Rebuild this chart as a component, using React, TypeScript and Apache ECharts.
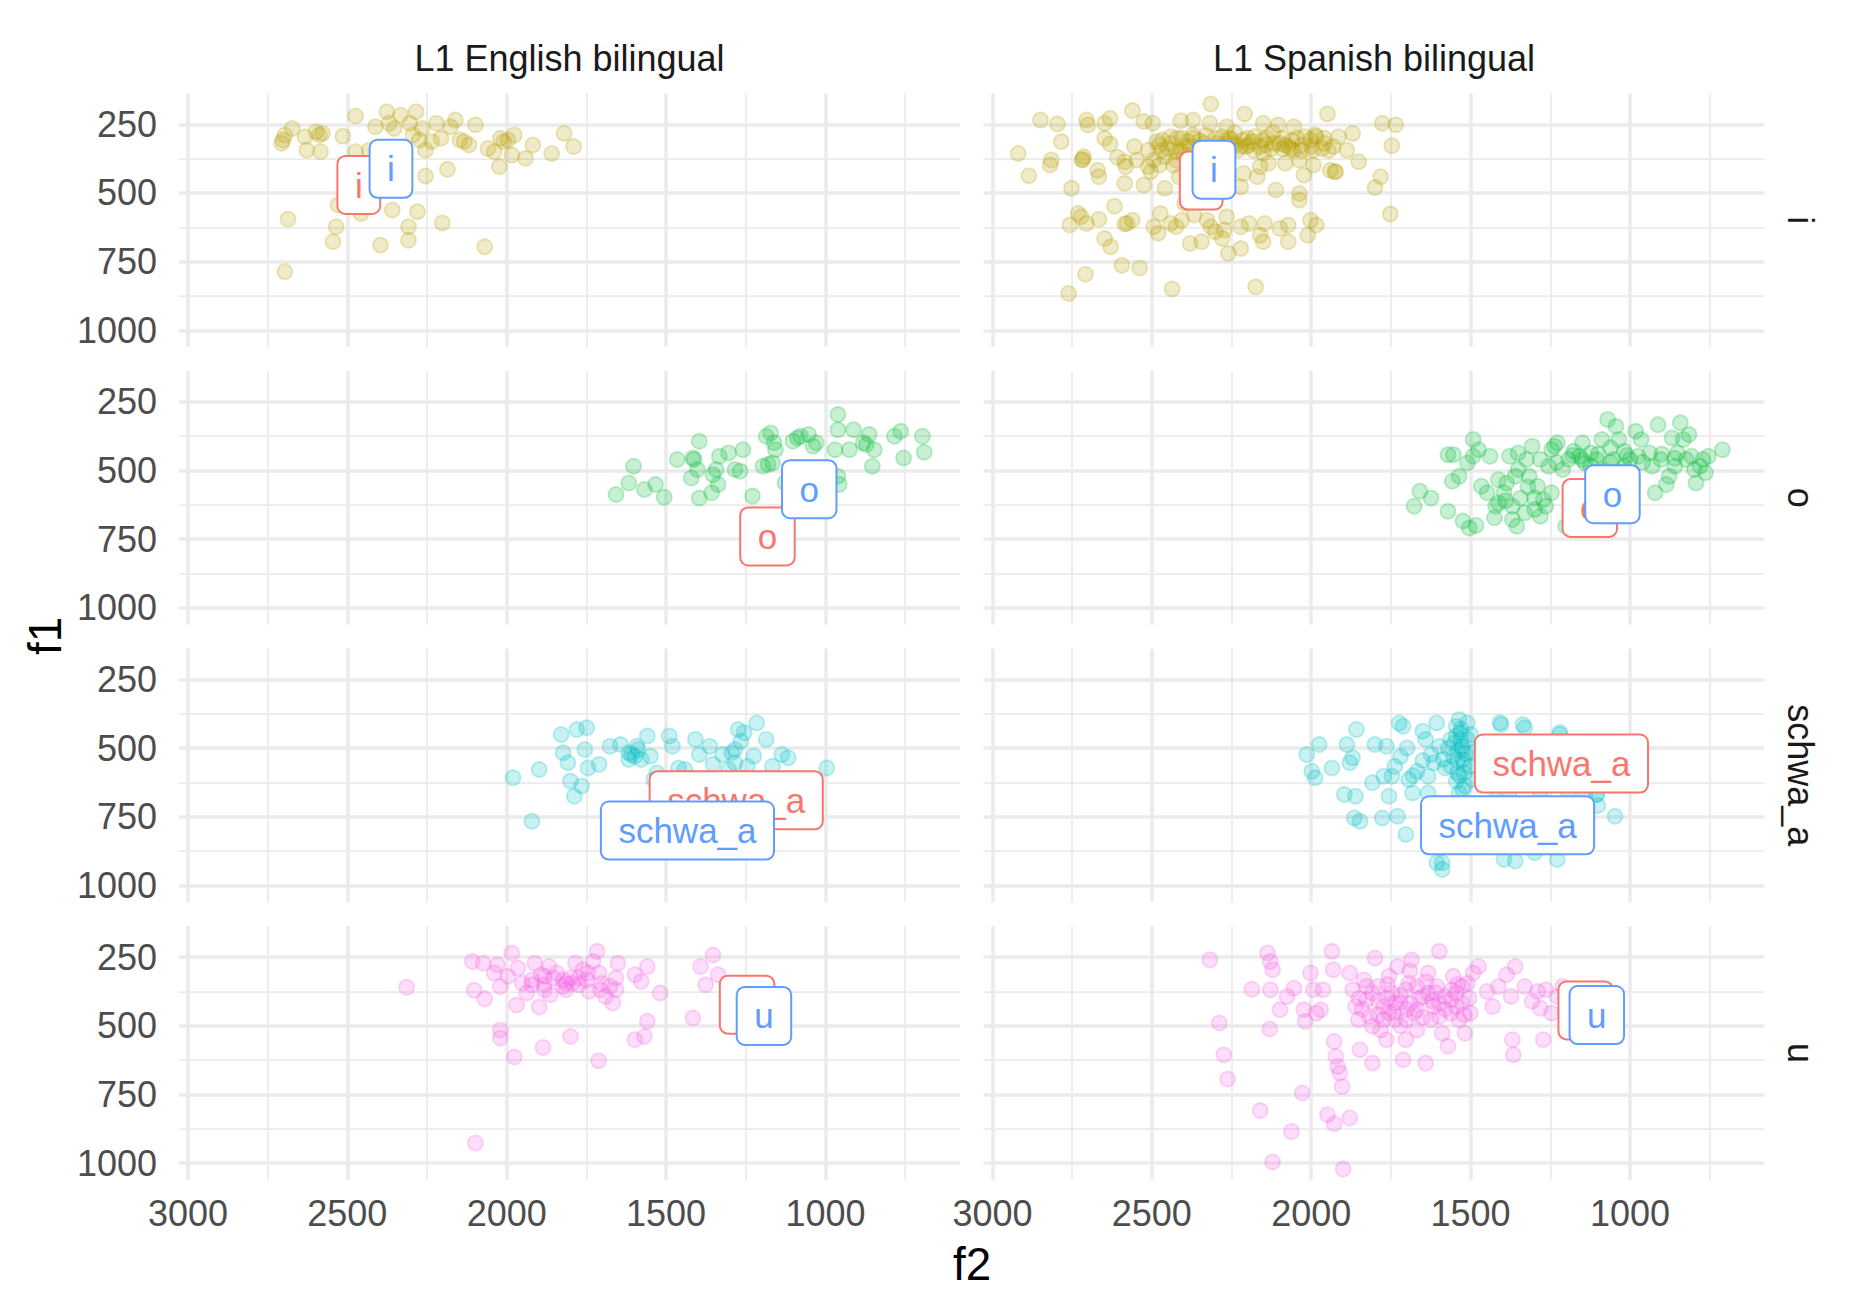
import React, { useEffect, useRef } from "react";
import * as echarts from "echarts";

// ---------- data ----------
const COLUMN_NAMES = ["L1 English bilingual", "L1 Spanish bilingual"];
const VOWELS = ["i", "o", "schwa_a", "u"];
const VOWEL_COLORS = ["#B79F00", "#00BA38", "#00BFC4", "#F564E3"];
const LABEL_RED = "#F8766D";
const LABEL_BLUE = "#619CFF";

const F2_RANGE = [578, 3028];
const F1_RANGE = [137, 1061];
const X_MAJOR = [1000, 1500, 2000, 2500, 3000];
const X_MINOR = [750, 1250, 1750, 2250, 2750];
const Y_MAJOR = [250, 500, 750, 1000];
const Y_MINOR = [375, 625, 875];

// [f2, f1]
const ENG_I = [
  [2696, 289], [2702, 307], [2706, 319], [2673, 265], [2633, 295], [2627, 344], [2598, 277], [2588, 289],
  [2584, 350], [2578, 283], [2514, 293], [2474, 220], [2474, 350], [2431, 344], [2412, 259], [2376, 204],
  [2369, 246], [2333, 216], [2353, 265], [2304, 246], [2284, 204], [2294, 289], [2274, 307], [2265, 265],
  [2255, 344], [2235, 313], [2220, 246], [2206, 301], [2176, 259], [2161, 234], [2147, 307], [2133, 313],
  [2118, 325], [2098, 252], [2059, 338], [2039, 350], [2020, 301], [2010, 313], [1996, 307], [1984, 362],
  [1976, 289], [1941, 374], [1918, 325], [1859, 356], [1820, 283], [1790, 331], [2023, 404], [2186, 414],
  [2255, 438], [2529, 544], [2457, 575], [2359, 562], [2280, 568], [2202, 609], [2308, 623], [2686, 596],
  [2535, 623], [2545, 678], [2396, 690], [2308, 672], [2069, 696], [2696, 787]
];

const SPA_I = [
  [2849, 234], [2796, 249], [2705, 234], [2701, 252], [2631, 228], [2648, 246], [2561, 200], [2525, 240],
  [2497, 246], [2409, 237], [2371, 234], [2315, 176], [2318, 246], [2265, 259], [2209, 212], [2151, 246],
  [2104, 252], [2054, 259], [1949, 212], [1777, 246], [1735, 252], [1747, 328], [1782, 441], [1800, 480],
  [1752, 577], [2919, 356], [2886, 437], [2819, 398], [2815, 380], [2784, 313], [2752, 483], [2719, 380],
  [2714, 368], [2670, 417], [2666, 441], [2648, 301], [2631, 322], [2608, 370], [2585, 386], [2582, 404],
  [2585, 465], [2555, 331], [2547, 380], [2525, 471], [2511, 344], [2503, 423], [2485, 313], [2467, 307],
  [2459, 483], [2441, 295], [2432, 398], [2415, 441], [2406, 301], [2397, 331], [2371, 289], [2357, 380],
  [2344, 350], [2301, 301], [2283, 331], [2265, 368], [2248, 319], [2230, 344], [2221, 477], [2213, 307],
  [2195, 325], [2177, 295], [2169, 441], [2151, 307], [2134, 392], [2125, 338], [2111, 489], [2090, 301],
  [2072, 331], [2063, 338], [2037, 380], [2023, 435], [2037, 502], [2019, 295], [1993, 398], [1984, 295],
  [1967, 338], [1940, 417], [1923, 423], [1914, 295], [1888, 344], [1870, 283], [1851, 386],
  [2476, 325], [2450, 338], [2424, 350], [2388, 313], [2336, 319], [2318, 338], [2292, 319], [2257, 301],
  [2239, 325], [2204, 331], [2186, 313], [2160, 331], [2142, 325], [2116, 319], [2081, 325], [2054, 344],
  [2028, 325], [2002, 307], [1988, 289], [1958, 319], [1931, 331], [2081, 392], [2160, 404], [2213, 429],
  [2265, 404], [2301, 392], [2476, 398], [2511, 404], [2494, 380], [2459, 368], [2424, 380], [2388, 404],
  [2717, 378], [1926, 423], [2440, 320], [2410, 345], [2380, 330], [2350, 310], [2290, 340], [2250, 305],
  [2220, 330], [2180, 345], [2140, 300], [2100, 320], [2060, 310], [2030, 345], [2000, 330], [1960, 300],
  [2420, 300], [2120, 280], [2240, 280], [2330, 290], [2470, 345], [2400, 360], [2310, 360], [2270, 320],
  [2200, 300], [2150, 355], [2090, 340], [2045, 300], [1995, 345], [1945, 345], [2370, 300], [2280, 295],
  [2757, 617], [2731, 575], [2722, 587], [2705, 611], [2666, 596], [2648, 666], [2629, 696], [2617, 548],
  [2585, 613], [2578, 611], [2561, 599], [2494, 623], [2480, 647], [2473, 575], [2441, 611], [2424, 623],
  [2406, 599], [2397, 538], [2380, 684], [2367, 580], [2344, 678], [2327, 599], [2315, 623], [2301, 641],
  [2279, 666], [2272, 635], [2265, 587], [2260, 720], [2221, 702], [2221, 623], [2195, 611], [2160, 654],
  [2151, 678], [2146, 611], [2098, 629], [2072, 678], [2072, 617], [2037, 526], [2011, 654], [2002, 599],
  [1984, 617], [2594, 763], [2538, 773], [2708, 796], [2761, 866], [2436, 850], [2174, 842]
];

const ENG_O = [
  [1657, 587], [1617, 545], [1602, 484], [1568, 569], [1533, 551], [1506, 597], [1465, 460], [1416, 454],
  [1412, 460], [1421, 527], [1396, 393], [1396, 600], [1357, 581], [1353, 515], [1343, 496], [1333, 448],
  [1337, 551], [1304, 436], [1284, 496], [1259, 424], [1268, 502], [1229, 593], [1196, 484], [1186, 375],
  [1172, 363], [1166, 472], [1161, 399], [1157, 424], [1127, 545], [1102, 393], [1088, 381], [1078, 375],
  [1053, 369], [1029, 399], [1039, 411], [961, 296], [970, 424], [961, 351], [961, 521], [957, 551],
  [925, 424], [912, 351], [882, 399], [872, 405], [863, 369], [847, 424], [853, 484], [784, 375],
  [764, 357], [755, 454], [696, 375], [690, 433], [1180, 478], [1402, 496]
];

const SPA_O = [
  [1677, 630], [1659, 575], [1624, 600], [1571, 648], [1571, 442], [1554, 442], [1557, 539], [1536, 521],
  [1524, 684], [1510, 472], [1504, 709], [1492, 387], [1492, 448], [1483, 700], [1475, 424], [1466, 557],
  [1448, 581], [1439, 448], [1425, 672], [1422, 630], [1413, 618], [1395, 581], [1387, 545], [1378, 448],
  [1369, 678], [1360, 521], [1355, 703], [1351, 436], [1343, 600], [1330, 654], [1325, 460], [1316, 521],
  [1307, 411], [1299, 642], [1290, 557], [1281, 460], [1272, 606], [1264, 630], [1255, 484], [1246, 424],
  [1237, 411], [1228, 399], [1211, 496], [1202, 703], [1176, 430], [1158, 448], [1149, 399], [1141, 472],
  [1123, 436], [1105, 460], [1088, 387], [1070, 314], [1061, 417], [1053, 460], [1044, 339], [1035, 387],
  [1018, 430], [1000, 460], [982, 357], [974, 448], [965, 387], [938, 436], [921, 581], [912, 333],
  [903, 460], [886, 551], [877, 521], [868, 381], [851, 436], [842, 326], [833, 387], [824, 460],
  [815, 369], [807, 448], [793, 545], [780, 484], [771, 460], [763, 508], [754, 448], [710, 424],
  [1193, 460], [1123, 484], [1018, 484], [930, 484], [859, 484], [798, 496], [1088, 496], [1351, 496],
  [1413, 533], [1246, 581], [1281, 666], [1369, 630], [1150, 460], [1100, 440], [1060, 470], [1010, 445],
  [960, 470], [900, 440], [860, 455], [1320, 560], [1300, 600], [1390, 610], [1230, 470], [1180, 445]
];

const ENG_SCHWA = [
  [1980, 608], [1898, 578], [1921, 766], [1829, 450], [1823, 517], [1808, 553], [1800, 620], [1788, 675],
  [1780, 432], [1765, 638], [1755, 505], [1749, 426], [1745, 572], [1710, 559], [1676, 493], [1643, 487],
  [1617, 541], [1608, 523], [1598, 529], [1592, 493], [1578, 541], [1559, 456], [1549, 529], [1539, 614],
  [1529, 590], [1490, 456], [1480, 493], [1461, 572], [1441, 578], [1408, 468], [1396, 523], [1363, 493],
  [1353, 559], [1323, 523], [1294, 517], [1284, 553], [1274, 432], [1255, 444], [1245, 566], [1225, 529],
  [1216, 408], [1186, 468], [1166, 566], [1137, 523], [1117, 535], [996, 572], [1284, 505], [1304, 578],
  [1588, 505], [1617, 517], [1265, 475]
];

const SPA_SCHWA = [
  [2014, 523], [1998, 584], [1988, 608], [1975, 487], [1935, 572], [1896, 669], [1888, 487], [1879, 553],
  [1870, 535], [1861, 675], [1858, 432], [1847, 766], [1865, 754], [1808, 626], [1800, 487], [1777, 754],
  [1773, 602], [1764, 493], [1756, 675], [1747, 602], [1738, 566], [1729, 748], [1724, 408], [1712, 420],
  [1703, 814], [1699, 499], [1694, 614], [1682, 663], [1668, 584], [1650, 438], [1641, 468], [1633, 602],
  [1624, 523], [1606, 408], [1598, 493], [1589, 917], [1580, 572], [1562, 468], [1554, 529], [1545, 420],
  [1541, 590], [1536, 396], [1531, 444], [1527, 493], [1524, 541], [1518, 638], [1510, 468], [1501, 566],
  [1496, 614], [1492, 517], [1404, 414], [1395, 905], [1360, 911], [1330, 426], [1228, 905], [1220, 450],
  [1047, 748], [1299, 881], [1281, 663], [1193, 663], [1141, 675], [1105, 669], [1378, 675], [1422, 687],
  [1589, 942], [1606, 917], [1536, 663], [1633, 663], [1510, 408], [1562, 566], [1615, 553],
  [1530, 470], [1540, 510], [1520, 560], [1535, 600], [1545, 620], [1525, 650], [1550, 480], [1515, 520],
  [1500, 450], [1408, 407], [1336, 414], [1220, 443], [1104, 669], [1101, 709], [1530, 430], [1540, 545],
  [1520, 590], [1545, 455], [1525, 505], [1570, 500], [1585, 540], [1650, 545], [1720, 530], [1680, 600]
];

const ENG_U = [
  [2314, 360], [2108, 266], [2102, 371], [2069, 402], [2074, 272], [2029, 278], [2020, 357], [2039, 308],
  [1984, 235], [1996, 320], [1969, 424], [1965, 290], [1951, 345], [1937, 381], [1921, 351], [1912, 272],
  [1898, 432], [1892, 314], [1882, 351], [1867, 284], [1863, 387], [1853, 326], [1843, 308], [1823, 357],
  [1814, 369], [1800, 326], [1784, 272], [1774, 351], [1761, 296], [1749, 333], [1741, 375], [1729, 266],
  [1716, 229], [1710, 308], [1702, 345], [1690, 393], [1676, 357], [1667, 417], [1657, 369], [1651, 272],
  [1657, 326], [1598, 314], [1578, 339], [1559, 284], [1519, 381], [1392, 284], [1376, 351], [1353, 242],
  [1337, 314], [1416, 472], [1559, 484], [1568, 539], [1598, 551], [1800, 539], [1886, 579], [1976, 614],
  [1712, 627], [2020, 515], [2020, 545], [2098, 927], [1882, 320], [1823, 333], [1794, 345], [1745, 308],
  [1706, 369], [1882, 369], [1921, 333], [1774, 326], [1814, 345]
];

const SPA_U = [
  [2318, 260], [2288, 490], [2274, 606], [2262, 694], [2186, 367], [2160, 809], [2137, 235], [2128, 266],
  [2121, 296], [2128, 369], [2130, 512], [2098, 442], [2076, 393], [2062, 885], [2054, 363], [2028, 745],
  [2023, 442], [2019, 484], [2002, 308], [1993, 369], [1984, 454], [1970, 442], [1963, 369], [1949, 824],
  [1935, 229], [1931, 296], [1928, 557], [1923, 612], [1917, 648], [1910, 672], [1903, 721], [1928, 857],
  [1900, 1022], [1879, 836], [1879, 308], [1870, 369], [1861, 430], [1852, 478], [1847, 587], [1835, 333],
  [1826, 405], [1817, 466], [1808, 636], [1800, 254], [1791, 357], [1782, 515], [1773, 430], [1764, 551],
  [1756, 320], [1747, 381], [1738, 478], [1729, 284], [1721, 417], [1712, 624], [1703, 551], [1694, 345],
  [1685, 260], [1677, 454], [1668, 515], [1650, 393], [1641, 636], [1633, 308], [1624, 478], [1615, 430],
  [1606, 357], [1598, 229], [1589, 527], [1580, 393], [1571, 575], [1562, 454], [1554, 320], [1545, 381],
  [1536, 478], [1527, 417], [1518, 527], [1510, 345], [1501, 454], [1492, 308], [1475, 284], [1448, 375],
  [1431, 430], [1413, 357], [1387, 314], [1373, 393], [1369, 551], [1366, 606], [1360, 284], [1330, 357],
  [1307, 411], [1290, 375], [1281, 436], [1272, 551], [1264, 369], [1246, 454], [1211, 357], [1185, 405],
  [1228, 393], [1808, 381], [1773, 478], [1738, 417], [1703, 369], [1668, 442], [1633, 381], [1598, 466],
  [1562, 405], [1527, 357], [1808, 502], [1703, 478], [1598, 417], [1756, 454], [1826, 357], [1545, 430],
  [1668, 357], [2121, 996], [1790, 410], [1760, 350], [1740, 450], [1720, 390], [1690, 420], [1660, 400],
  [1640, 340], [1620, 410], [1580, 440], [1560, 370], [1540, 350], [1520, 460], [1790, 460], [1840, 440],
  [1720, 500], [1650, 470], [1610, 380], [1690, 300], [1760, 400], [1505, 400], [1850, 400], [1700, 440]
];

// points by [vowel row][column]
const POINTS = [
  [ENG_I, SPA_I],
  [ENG_O, SPA_O],
  [ENG_SCHWA, SPA_SCHWA],
  [ENG_U, SPA_U]
];

// label positions [f2, f1] by [vowel row][column]
const RED_LABELS = [
  [[2464, 471], [2345, 455]],
  [[1182, 740], [1126, 636]],
  [[1280, 690], [1215, 556]],
  [[1246, 423], [1139, 444]]
];
const BLUE_LABELS = [
  [[2363, 412], [2305, 415]],
  [[1051, 568], [1055, 586]],
  [[1433, 800], [1384, 781]],
  [[1193, 464], [1104, 461]]
];

// ---------- layout / style ----------
const FONT = "'Liberation Sans', Arial, Helvetica, sans-serif";
const COL_LEFT = [179, 983.5];
const COL_W = 781;
const ROW_TOP = [93.3, 370.9, 648.5, 926.1];
const ROW_H = 253.7;
const GRID_COLOR = "#EBEBEB";

function rgba(hex: string, a: number) {
  const n = parseInt(hex.slice(1), 16);
  return `rgba(${(n >> 16) & 255},${(n >> 8) & 255},${n & 255},${a})`;
}

const plain = (v: number) => String(v);

function buildOption() {
  const grid: any[] = [];
  const xMain: any[] = [];
  const xMinor: any[] = [];
  const yMain: any[] = [];
  const yMinor: any[] = [];
  const series: any[] = [];

  for (let r = 0; r < 4; r++) {
    for (let c = 0; c < 2; c++) {
      const p = r * 2 + c;
      grid.push({
        left: COL_LEFT[c],
        top: ROW_TOP[r],
        width: COL_W,
        height: ROW_H,
        containLabel: false,
        outerBoundsMode: "none",
      });
      const xBase = {
        type: "value",
        gridIndex: p,
        min: F2_RANGE[0],
        max: F2_RANGE[1],
        inverse: true,
        axisLine: { show: false },
      };
      xMain.push({
        ...xBase,
        axisTick: { show: false, customValues: X_MAJOR },
        axisLabel: {
          show: r === 3,
          customValues: X_MAJOR,
          formatter: plain,
          fontSize: 36,
          color: "#4D4D4D",
          fontFamily: FONT,
          margin: 16,
        },
        splitLine: { show: true, lineStyle: { color: GRID_COLOR, width: 3.5 } },
      });
      xMinor.push({
        ...xBase,
        axisTick: { show: false, customValues: X_MINOR },
        axisLabel: { show: false, customValues: X_MINOR },
        splitLine: { show: true, lineStyle: { color: GRID_COLOR, width: 1.75 } },
      });
      const yBase = {
        type: "value",
        gridIndex: p,
        min: F1_RANGE[0],
        max: F1_RANGE[1],
        inverse: true,
        axisLine: { show: false },
      };
      yMain.push({
        ...yBase,
        axisTick: { show: false, customValues: Y_MAJOR },
        axisLabel: {
          show: c === 0,
          customValues: Y_MAJOR,
          formatter: plain,
          fontSize: 36,
          color: "#4D4D4D",
          fontFamily: FONT,
          margin: 22,
        },
        splitLine: { show: true, lineStyle: { color: GRID_COLOR, width: 3.5 } },
      });
      yMinor.push({
        ...yBase,
        axisTick: { show: false, customValues: Y_MINOR },
        axisLabel: { show: false, customValues: Y_MINOR },
        splitLine: { show: true, lineStyle: { color: GRID_COLOR, width: 1.75 } },
      });

      const col = VOWEL_COLORS[r];
      series.push({
        type: "scatter",
        name: `${VOWELS[r]}-${c}`,
        xAxisIndex: p,
        yAxisIndex: p,
        data: POINTS[r][c],
        symbol: "circle",
        symbolSize: 15,
        silent: true,
        z: 2,
        itemStyle: {
          color: rgba(col, 0.22),
          borderColor: rgba(col, 0.25),
          borderWidth: 1.8,
          opacity: 1,
        },
      });

      const mkLabel = (pos: number[], color: string, z: number) => ({
        type: "scatter",
        xAxisIndex: p,
        yAxisIndex: p,
        data: [pos],
        symbolSize: 1,
        silent: true,
        z,
        itemStyle: { color: "rgba(0,0,0,0)", opacity: 1 },
        label: {
          show: true,
          position: "inside",
          formatter: VOWELS[r],
          fontSize: 35,
          lineHeight: 35,
          fontFamily: FONT,
          color,
          backgroundColor: "#ffffff",
          borderColor: color,
          borderWidth: 2,
          borderRadius: 7,
          padding: [10.5, 16.5],
        },
      });
      series.push(mkLabel(RED_LABELS[r][c], LABEL_RED, 5));
      series.push(mkLabel(BLUE_LABELS[r][c], LABEL_BLUE, 6));
    }
  }

  const graphic: any[] = [];
  for (let c = 0; c < 2; c++) {
    graphic.push({
      type: "text",
      x: COL_LEFT[c] + COL_W / 2,
      y: 58,
      style: {
        text: COLUMN_NAMES[c],
        fontSize: 36,
        fontFamily: FONT,
        fill: "#1A1A1A",
        align: "center",
        verticalAlign: "middle",
      },
    });
  }
  for (let r = 0; r < 4; r++) {
    graphic.push({
      type: "text",
      x: 1800,
      y: ROW_TOP[r] + ROW_H / 2,
      rotation: -Math.PI / 2,
      style: {
        text: VOWELS[r],
        fontSize: 36,
        fontFamily: FONT,
        fill: "#1A1A1A",
        align: "center",
        verticalAlign: "middle",
      },
    });
  }
  graphic.push({
    type: "text",
    x: 45,
    y: 636,
    rotation: Math.PI / 2,
    style: {
      text: "f1",
      fontSize: 45.8,
      fontFamily: FONT,
      fill: "#000000",
      align: "center",
      verticalAlign: "middle",
    },
  });
  graphic.push({
    type: "text",
    x: 972,
    y: 1264,
    style: {
      text: "f2",
      fontSize: 45.8,
      fontFamily: FONT,
      fill: "#000000",
      align: "center",
      verticalAlign: "middle",
    },
  });

  return {
    animation: false,
    backgroundColor: "#ffffff",
    textStyle: { fontFamily: FONT },
    grid,
    xAxis: [...xMain, ...xMinor],
    yAxis: [...yMain, ...yMinor],
    series,
    graphic,
  };
}

function Chart() {
  const ref = useRef<HTMLDivElement>(null);
  useEffect(() => {
    if (!ref.current) return;
    const chart = echarts.init(ref.current, null, { renderer: "svg" });
    chart.setOption(buildOption() as any);
    return () => chart.dispose();
  }, []);
  return (
    <div
      ref={ref}
      style={{ position: "absolute", left: 0, top: 0, width: 1858, height: 1312, background: "#fff" }}
    />
  );
}

export default function App() {
  return <Chart />;
}
